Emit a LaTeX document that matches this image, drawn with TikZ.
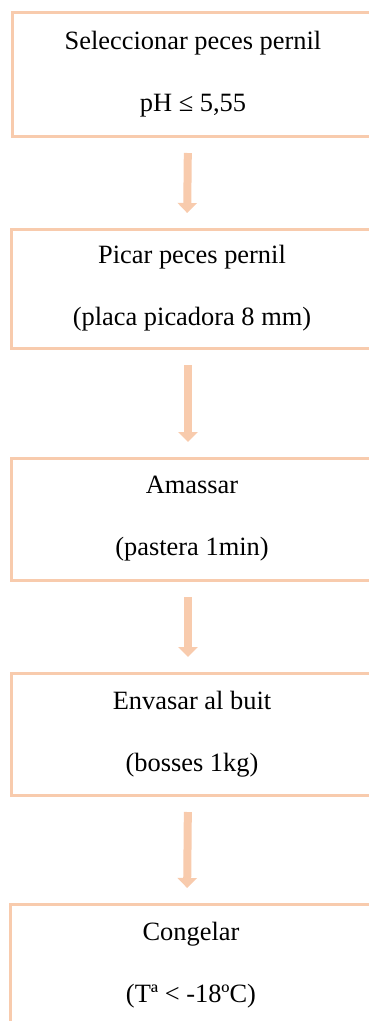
\documentclass[tikz,border=0pt]{standalone}
\usepackage{fontspec}
\setmainfont{Liberation Serif}
\usetikzlibrary{arrows.meta}
\definecolor{peach}{HTML}{F8CBAD}
\begin{document}
\begin{tikzpicture}[x=1pt,y=-1pt,
  stepbox/.style={draw=peach, line width=3pt, rectangle, anchor=north west,
    minimum width=362pt, inner sep=0pt, outer sep=0pt, align=center,
    font=\fontsize{26.4}{62}\selectfont},
  flow/.style={draw=peach, line width=8pt, -{Triangle[width=19pt,length=10pt]},
    shorten <=17pt, shorten >=16pt}]
  \useasboundingbox (0,0) rectangle (369,1021);
  \clip (0,0) rectangle (369,1021);
  % process steps
  \node[stepbox, minimum height=124pt] (s1) at (12,12)
    {Seleccionar peces pernil\\pH ≤ 5,55};
  \node[stepbox, minimum height=119pt] (s2) at (11,229)
    {Picar peces pernil\\(placa picadora 8 mm)};
  \node[stepbox, minimum height=122pt] (s3) at (11,458)
    {Amassar\\(pastera 1min)};
  \node[stepbox, minimum height=122pt] (s4) at (11,673)
    {Envasar al buit\\(bosses 1kg)};
  \node[stepbox, minimum height=122pt] (s5) at (10,904)
    {Congelar\\(Tª < -18ºC)};
  % arrows between steps
  \draw[flow] ([xshift=-5pt]s1.south) -- ([xshift=-5pt]s2.north);
  \draw[flow] ([xshift=-4pt]s2.south) -- ([xshift=-4pt]s3.north);
  \draw[flow] ([xshift=-4pt]s3.south) -- ([xshift=-4pt]s4.north);
  \draw[flow] ([xshift=-4pt]s4.south) -- ([xshift=-4pt]s5.north);
\end{tikzpicture}
\end{document}
